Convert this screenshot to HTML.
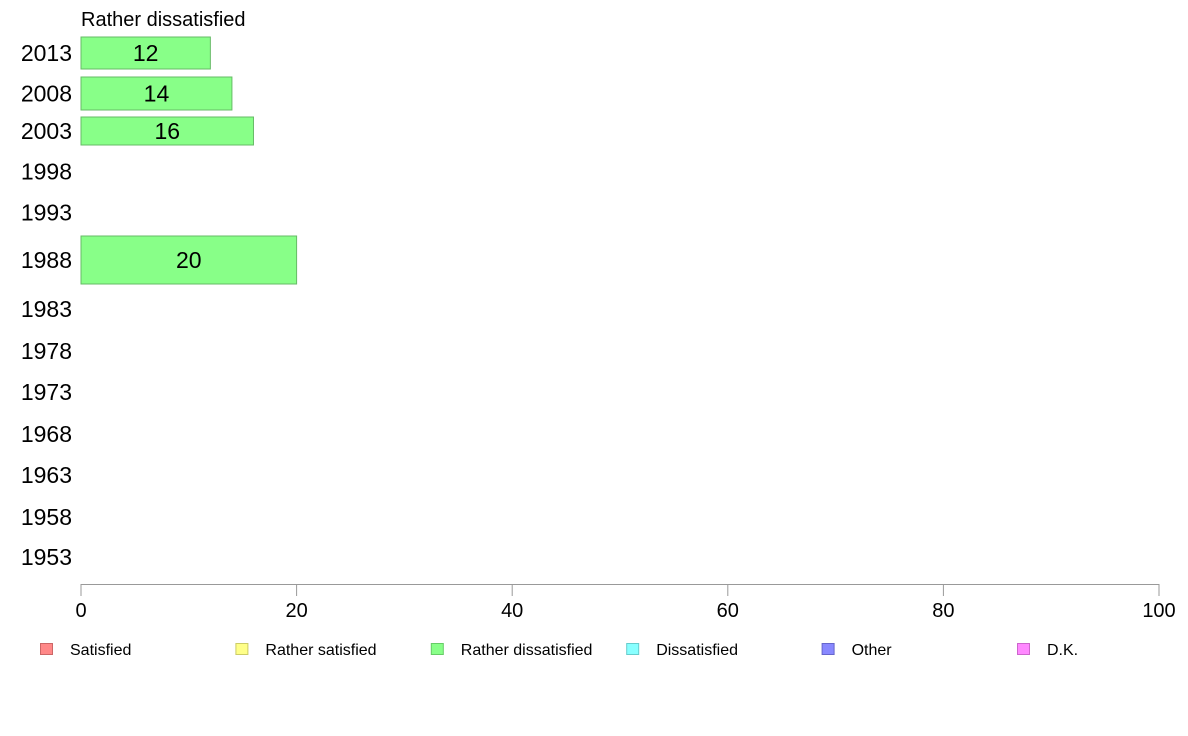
<!DOCTYPE html>
<html><head><meta charset="utf-8"><style>
body{margin:0;background:#fff;}
svg{display:block;font-family:"Liberation Sans",Arial,sans-serif;}
</style></head><body>
<svg id="chart" width="1188" height="736"></svg>
<script>
const years = ["2013","2008","2003","1998","1993","1988","1983","1978","1973","1968","1963","1958","1953"];
const values = [12,14,16,null,null,20,null,null,null,null,null,null,null];
const xTicks = [0,20,40,60,80,100];
const legendLabels = ["Satisfied","Rather satisfied","Rather dissatisfied","Dissatisfied","Other","D.K."];
const legendColors = ["#ff8888","#ffff88","#88ff88","#88ffff","#8888ff","#ff88ff"];
const legendStrokes = ["#cc6666","#cccc66","#66cc66","#66cccc","#6666cc","#cc66cc"];
// layout (pixel bands for each row; not data)
const rowTop = [37,77,117,157,197,236,292,334,375,417,458,500,540];
const rowBot = [69,110,145,186,228,284,326,368,409,451,492,534,574];
const svg = document.getElementById('chart');
const NS='http://www.w3.org/2000/svg';
const x0=81,x1=1159;
const xs=v=>x0+(v-xTicks[0])/(xTicks[xTicks.length-1]-xTicks[0])*(x1-x0);
function mk(t,a,txt){const e=document.createElementNS(NS,t);for(const k in a)e.setAttribute(k,a[k]);if(txt!=null)e.textContent=txt;svg.appendChild(e);return e;}
let t=mk('text',{x:81,y:26,'font-size':20,fill:'#000'},'Rather dissatisfied');


years.forEach((y,i)=>{
  const cy=(rowTop[i]+rowBot[i])/2;
  const l=mk('text',{x:72,y:cy+8,'font-size':23,'text-anchor':'end',fill:'#000'},y);
  
  
  if(values[i]!=null){
    const r=mk('rect',{x:xs(0),y:rowTop[i],width:xs(values[i])-xs(0),height:rowBot[i]-rowTop[i],fill:'#88ff88',stroke:'#66bb66','stroke-width':1});
    
    
    const v=mk('text',{x:(xs(0)+xs(values[i]))/2,y:cy+8,'font-size':23,'text-anchor':'middle',fill:'#000'},String(values[i]));
    
    
  }
});
const ax=mk('line',{x1:x0,y1:584.5,x2:x1,y2:584.5,stroke:'#999','stroke-width':1});


xTicks.forEach(v=>{
  const tk=mk('line',{x1:xs(v),y1:584,x2:xs(v),y2:596,stroke:'#999','stroke-width':1});
  
  
  const tl=mk('text',{x:xs(v),y:617,'font-size':20,'text-anchor':'middle',fill:'#000'},String(v));
  
  
});
legendLabels.forEach((lab,i)=>{
  const lx=40+i*195.4;
  const sq=mk('rect',{x:lx+0.5,y:643.5,width:12,height:11,fill:legendColors[i],stroke:legendStrokes[i],'stroke-width':1});
  
  
  const lt=mk('text',{x:lx+30,y:655,'font-size':16,fill:'#000'},lab);
  
  
});
</script>
</body></html>
